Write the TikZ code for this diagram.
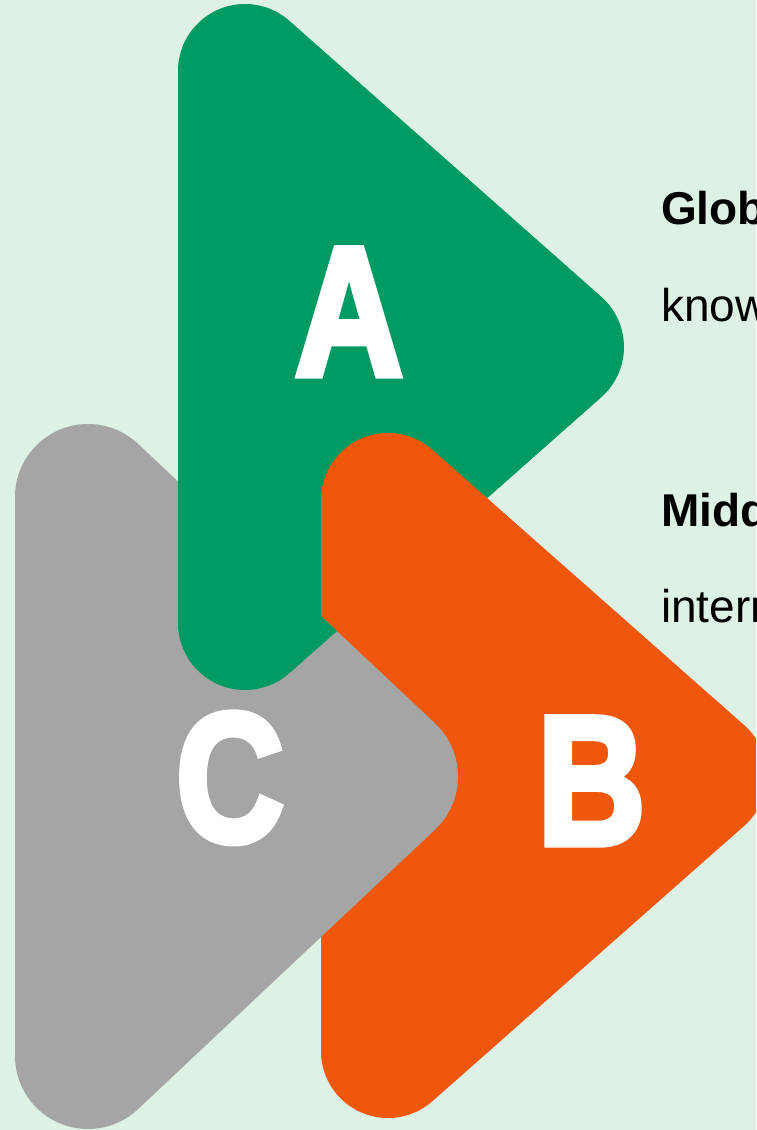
\documentclass[tikz,border=0pt]{standalone}
\usepackage{fontspec}
\setmainfont{Liberation Sans}
\newfontfamily\blockfont{Liberation Sans}[BoldFeatures={FakeBold=4}]
\usetikzlibrary{positioning}
\definecolor{mintbg}{RGB}{221,242,229}
\definecolor{leafgreen}{RGB}{0,154,99}
\definecolor{flameorange}{RGB}{240,87,12}
\definecolor{stonegray}{RGB}{165,165,165}
% rounded triangle: centre x of left corners, top y, bottom y, tip x, radius
\newcommand\roundtri[5]{(#1-#5,#3) -- (#1-#5,#2)
  arc[start angle=180,end angle={atan2(#4-#1,(#2-#3)/2)},radius=#5]
  -- ++({#4-#1},{(#3-#2)/2})
  arc[start angle={atan2(#4-#1,(#2-#3)/2)},end angle={-atan2(#4-#1,(#2-#3)/2)},radius=#5]
  -- ++({#1-#4},{(#3-#2)/2})
  arc[start angle={-atan2(#4-#1,(#2-#3)/2)},end angle=-180,radius=#5] -- cycle}
\tikzset{
    bigletter/.style={text=white,inner sep=0pt,anchor=base,font=\fontsize{187}{187}\selectfont\blockfont\bfseries},
    headline/.style={inner sep=0pt,anchor=base west,font=\fontsize{46}{46}\selectfont\bfseries},
    bodyline/.style={inner sep=0pt,anchor=base west,font=\fontsize{46}{46}\selectfont},
    }
\begin{document}
\begin{tikzpicture}[x=1pt,y=1pt]
	\fill[mintbg] (0,0) rectangle (756,1130);
	\clip (0,0) rectangle (756,1130);

	\fill[stonegray] \roundtri{88}{633}{74}{385}{73};
	\fill[leafgreen] \roundtri{245}{1059}{507}{557}{67};
	\fill[flameorange] \roundtri{388}{630}{79}{700}{67};
	% grey tip over orange, green over both
	\begin{scope}
		\clip \roundtri{388}{630}{79}{700}{67};
		\fill[stonegray] \roundtri{88}{633}{74}{385}{73};
		\clip \roundtri{88}{633}{74}{385}{73};
		\fill[leafgreen] \roundtri{245}{1059}{507}{557}{67};
	\end{scope}

	\node[bigletter] (letA) at (349,755) {\scalebox{0.8}[0.98]{A}};
	\node[bigletter] (letC) at (230,289) {\scalebox{0.8}[0.98]{C}};
	\node[bigletter] (letB) at (591.5,286) {\scalebox{0.8}[0.98]{B}};

	\node[headline] (headA) at (661,905) {Glob};
	\node[bodyline] (bodyA) at (661,808) {know};
	\node[headline] (headB) at (661,603) {Midd};
	\node[bodyline] (bodyB) at (661,507) {intern};
\end{tikzpicture}
\end{document}
